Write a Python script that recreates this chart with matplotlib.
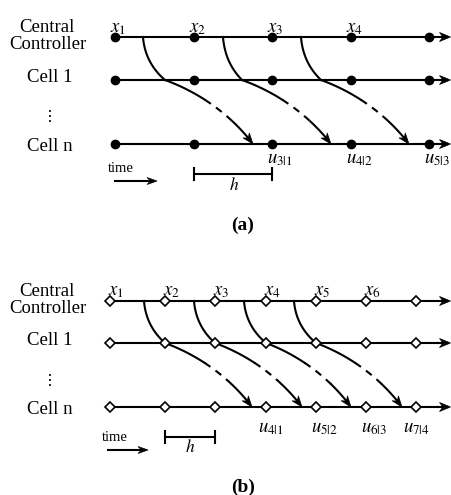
import numpy as np
import matplotlib.pyplot as plt
from matplotlib.patches import Polygon
from math import comb

plt.rcParams['font.family'] = 'Liberation Serif'
plt.rcParams['mathtext.fontset'] = 'stix'

# panel (a): sampling instants (px along time axis) and row heights
a_ticks = [115, 194, 272, 351, 429]
a_rows = [37, 80, 144]
a_x_labels = ['$x_1$', '$x_2$', '$x_3$', '$x_4$']
a_u_labels = ['$u_{3|1}$', '$u_{4|2}$', '$u_{5|3}$']
a_sent = [143, 223, 301]    # message leaves controller
a_recv = [165, 242, 321]    # passes cell 1
a_apply = [253, 331, 409]   # reaches cell n

# panel (b)
b_ticks = [110, 165, 215, 266, 316, 366, 416]
b_rows = [301, 343, 407]
b_x_labels = ['$x_1$', '$x_2$', '$x_3$', '$x_4$', '$x_5$', '$x_6$']
b_u_labels = ['$u_{4|1}$', '$u_{5|2}$', '$u_{6|3}$', '$u_{7|4}$']
b_u_pos = [271, 324, 374, 416]
b_sent = [144, 194, 244, 294]
b_recv = [165, 215, 266, 316]
b_apply = [252, 302, 351, 402]

W, H = 451, 495
fig = plt.figure(figsize=(W / 100, H / 100), dpi=100)
ax = fig.add_axes([0, 0, 1, 1])
ax.set_xlim(0, W)
ax.set_ylim(H, 0)
ax.axis('off')

LW = 1.5
FS = 13.5


def stealth(tip, d, L=11, hw=4.5, notch=3.5):
    # notched arrowhead pointing along direction d
    d = np.asarray(d, float)
    d = d / np.hypot(*d)
    n = np.array([-d[1], d[0]])
    tip = np.asarray(tip, float)
    back = tip - L * d
    pts = [tip, back + hw * n, back + notch * d, back - hw * n]
    ax.add_patch(Polygon(pts, closed=True, fc='k', ec='k', lw=0.5, zorder=5))


def arrow_line(p0, p1, L=11, hw=4.5):
    p0 = np.asarray(p0, float)
    p1 = np.asarray(p1, float)
    d = p1 - p0
    u = d / np.hypot(*d)
    end = p1 - 4 * u
    ax.plot([p0[0], end[0]], [p0[1], end[1]], color='k', lw=LW)
    stealth(p1, d, L, hw)


def bez(pts, t):
    t = np.asarray(t)[:, None]
    n = len(pts) - 1
    out = 0
    for k, p in enumerate(pts):
        out = out + comb(n, k) * (1 - t) ** (n - k) * t ** k * np.array(p)
    return out


def message(s, c, e, rows):
    r0, r1, r2 = rows
    # controller -> cell 1
    top = bez([(s, r0), (s + 2, r0 + 0.6 * (r1 - r0)), (c, r1)],
              np.linspace(0, 1, 40))
    ax.plot(top[:, 0], top[:, 1], color='k', lw=LW)
    # cell 1 -> cell n (solid, dashed, solid)
    ctrl = [(c, r1), (c + 0.4 * (e - c), r1 + 0.2 * (r2 - r1)),
            (e - 0.25 * (e - c), r2 - 0.45 * (r2 - r1)), (e, r2)]
    seg1 = bez(ctrl, np.linspace(0, 0.4, 30))
    seg2 = bez(ctrl, np.linspace(0.4, 0.72, 30))
    seg3 = bez(ctrl, np.linspace(0.72, 0.95, 30))
    ax.plot(seg1[:, 0], seg1[:, 1], color='k', lw=LW)
    ax.plot(seg2[:, 0], seg2[:, 1], color='k', lw=LW, ls=(0, (3.5, 3)))
    ax.plot(seg3[:, 0], seg3[:, 1], color='k', lw=LW)
    tip = bez(ctrl, [0.93, 1.0])
    stealth(tip[1], tip[1] - tip[0], L=11, hw=4)


def row_labels(rows):
    ax.text(47, rows[0] - 5, 'Central', fontsize=FS, ha='center', va='baseline')
    ax.text(48, rows[0] + 12, 'Controller', fontsize=FS, ha='center', va='baseline')
    ax.text(50, rows[1] + 2, 'Cell 1', fontsize=FS, ha='center', va='baseline')
    ax.text(50, (rows[1] + rows[2]) / 2 + 5, '\u22ee', fontsize=FS - 2,
            ha='center', va='center', family='DejaVu Sans')
    ax.text(50, rows[2] + 7, 'Cell n', fontsize=FS, ha='center', va='baseline')


# ---------- panel (a) ----------
for y in a_rows:
    arrow_line((a_ticks[0], y), (W - 0.5, y))
    ax.plot(a_ticks, [y] * len(a_ticks), 'o', color='k', ms=6, zorder=4)
for s, c, e in zip(a_sent, a_recv, a_apply):
    message(s, c, e, a_rows)
for t, lab in zip(a_ticks, a_x_labels):
    ax.text(t - 5, a_rows[0] - 5, lab, fontsize=FS, ha='left', va='baseline')
for t, lab in zip(a_ticks[2:], a_u_labels):
    ax.text(t - 5, a_rows[2] + 19, lab, fontsize=FS, ha='left', va='baseline')
row_labels(a_rows)

ax.text(108, 172, 'time', fontsize=10.5, ha='left', va='baseline')
arrow_line((115, 181), (157, 181), L=10, hw=3.5)
ax.plot([a_ticks[1], a_ticks[2]], [174, 174], color='k', lw=LW)
for t in a_ticks[1:3]:
    ax.plot([t, t], [168, 180], color='k', lw=LW)
ax.text((a_ticks[1] + a_ticks[2]) / 2 + 1, 190, '$h$', fontsize=FS - 1,
        ha='center', va='baseline')
ax.text(243, 225, '(a)', fontsize=14, fontweight='bold', ha='center', va='center')

# ---------- panel (b) ----------
for y in b_rows:
    arrow_line((b_ticks[0], y), (W - 0.5, y))
    ax.plot(b_ticks, [y] * len(b_ticks), 'D', mfc='white', mec='k', mew=1.2,
            ms=5, zorder=4)
for s, c, e in zip(b_sent, b_recv, b_apply):
    message(s, c, e, b_rows)
for t, lab in zip(b_ticks, b_x_labels):
    ax.text(t - 2, b_rows[0] - 6, lab, fontsize=FS, ha='left', va='baseline')
for x, lab in zip(b_u_pos, b_u_labels):
    ax.text(x, b_rows[2] + 25, lab, fontsize=FS, ha='center', va='baseline')
row_labels(b_rows)

ax.text(102, 441, 'time', fontsize=10.5, ha='left', va='baseline')
arrow_line((108, 450), (148, 450), L=10, hw=3.5)
ax.plot([b_ticks[1], b_ticks[2]], [437, 437], color='k', lw=LW)
for t in b_ticks[1:3]:
    ax.plot([t, t], [431, 443], color='k', lw=LW)
ax.text((b_ticks[1] + b_ticks[2]) / 2, 452, '$h$', fontsize=FS - 1,
        ha='center', va='baseline')
ax.text(243, 487, '(b)', fontsize=14, fontweight='bold', ha='center', va='center')

fig.savefig('out.png', dpi=100)
